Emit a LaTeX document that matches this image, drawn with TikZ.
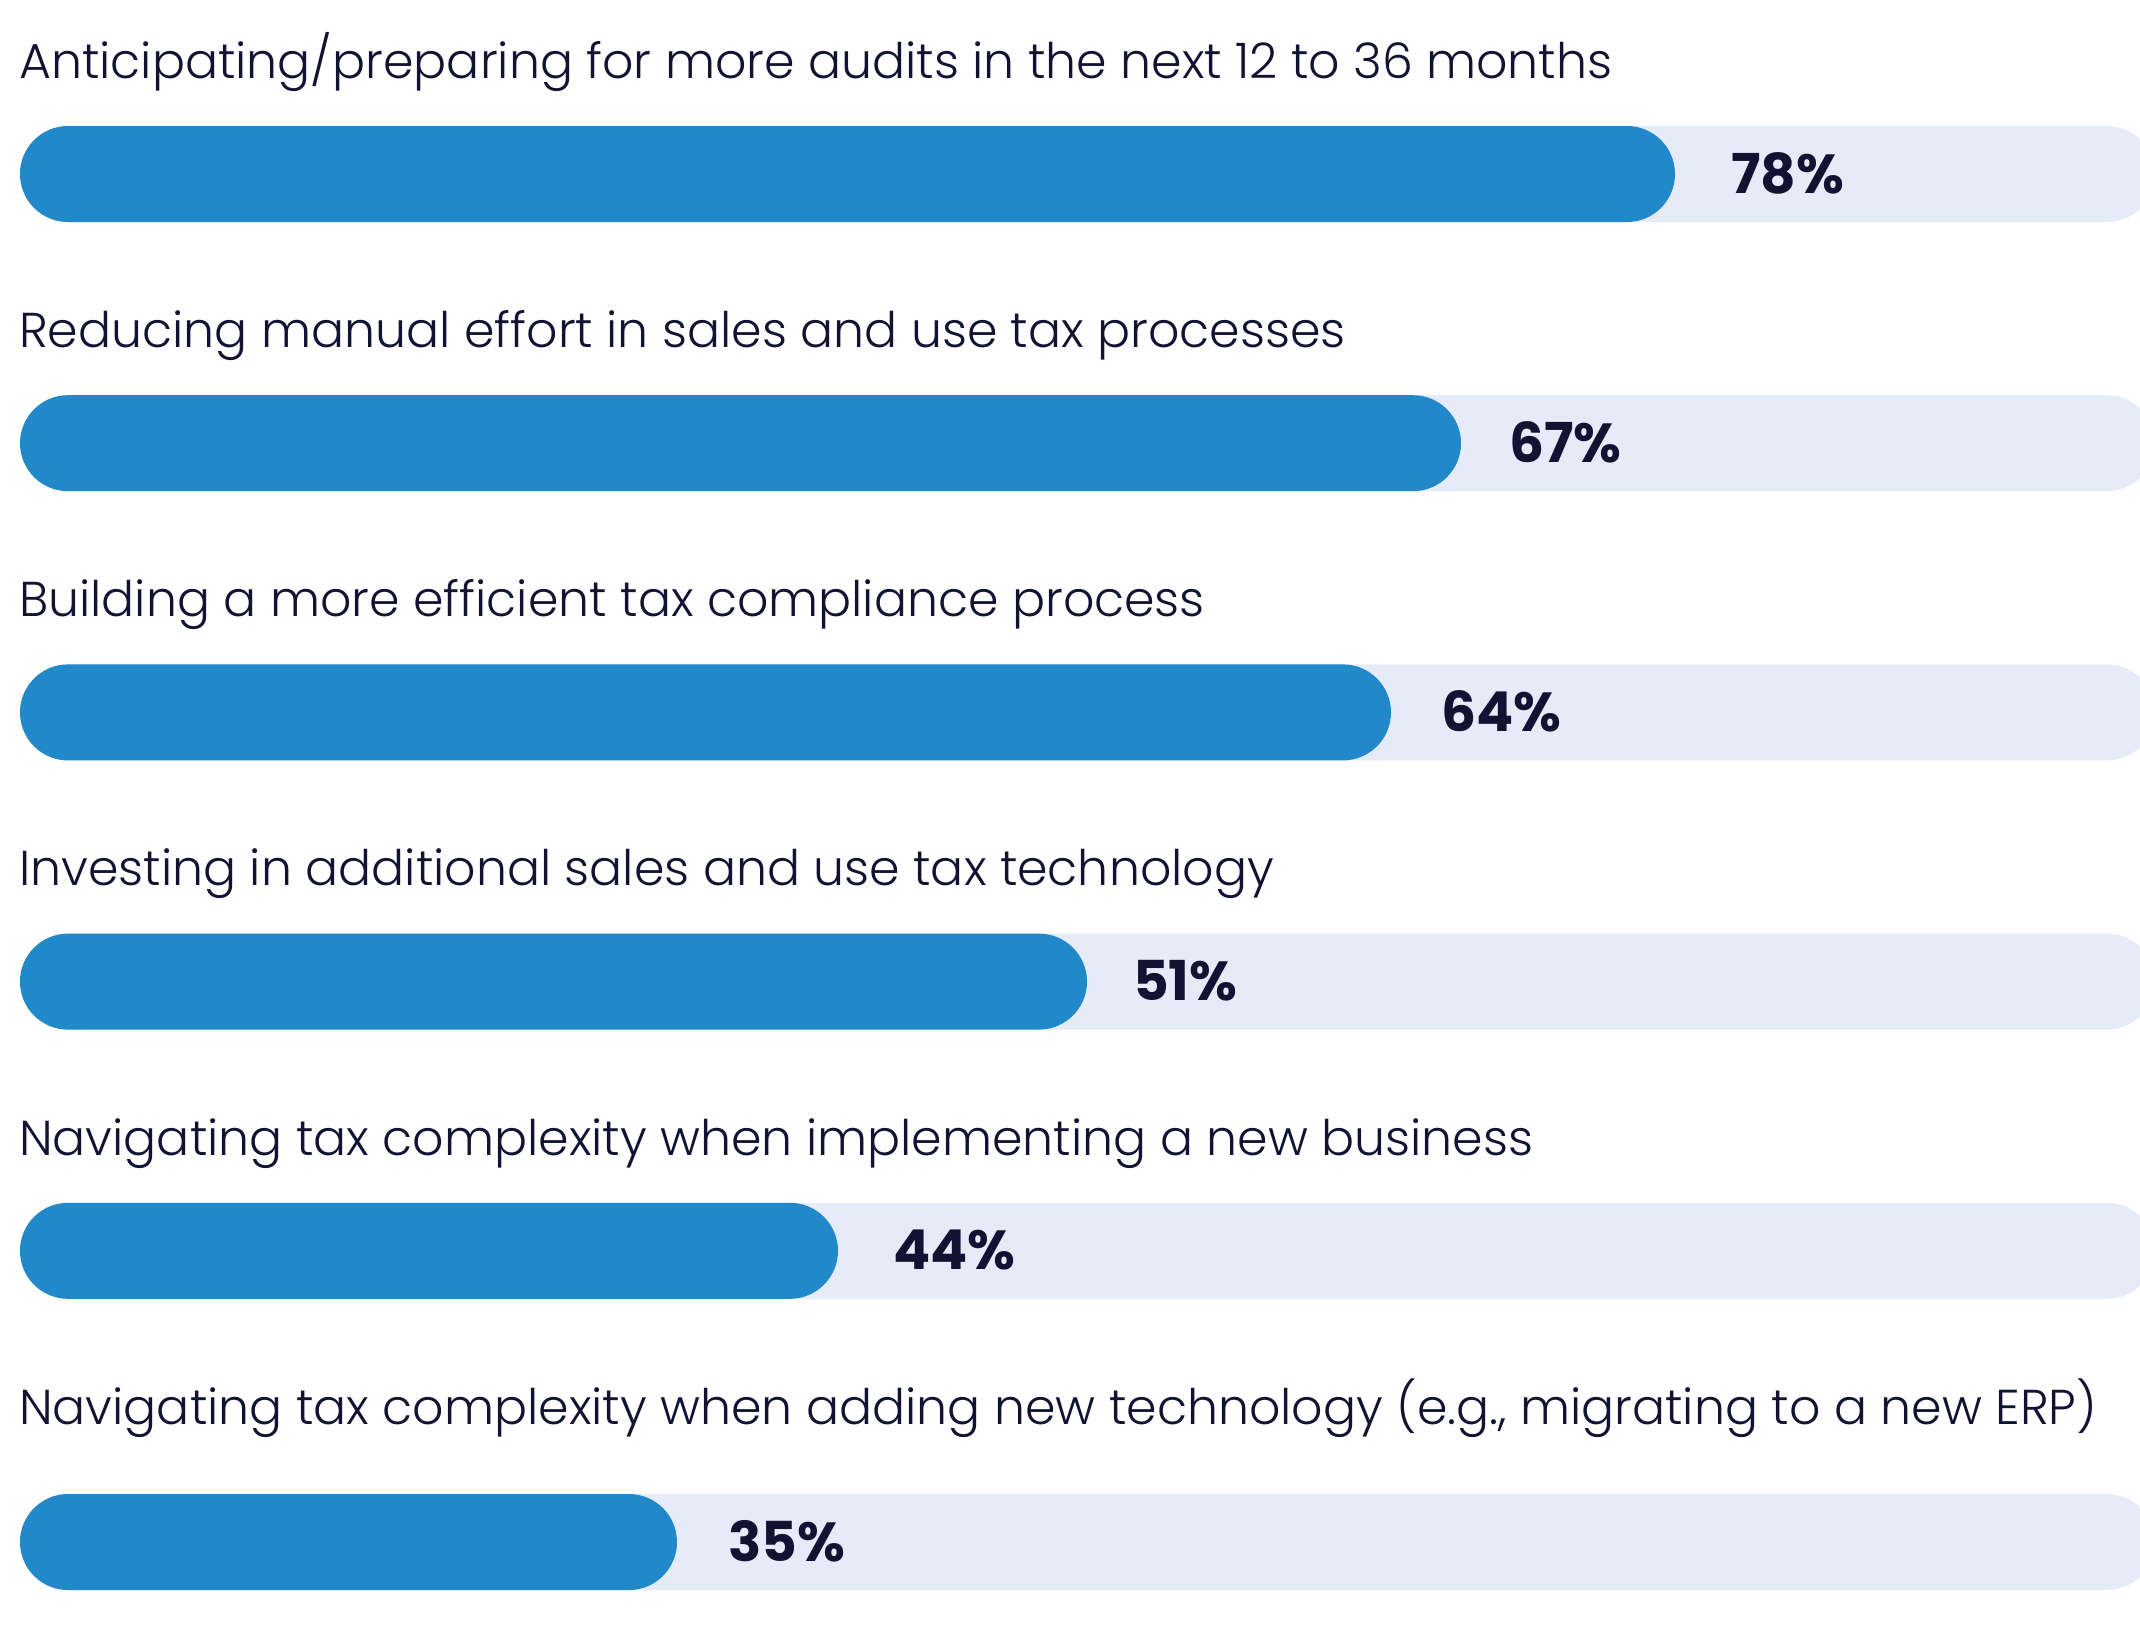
\documentclass[tikz,border=0pt]{standalone}
\usepackage{fontspec}
\setmainfont{Poppins}
\IfFontExistsTF{Poppins Light}{\newfontfamily\labfont{Poppins Light}}{\newfontfamily\labfont{Poppins}}
\definecolor{barblue}{HTML}{2189C9}
\definecolor{bartrack}{HTML}{E5EBF7}
\definecolor{ink}{HTML}{111333}
\begin{document}
\begin{tikzpicture}[x=1pt,y=-1pt,
  track/.style={fill=bartrack,rounded corners=48pt},
  value/.style={fill=barblue,rounded corners=48pt},
  lab/.style={anchor=base west,inner sep=0pt,text=ink,font=\labfont\fontsize{49}{60}\selectfont},
  pct/.style={anchor=base west,inner sep=0pt,text=ink,font=\fontsize{55}{60}\selectfont\bfseries}]
\useasboundingbox (0,0) rectangle (2140,1638);
\clip (0,0) rectangle (2140,1638);
\foreach \i/\lb/\bt/\be/\px/\txt/\val in {
  1/78.3/126/1675/1731/{Anticipating/preparing for more audits in the next 12 to 36 months}/78\%,
  2/347.5/395.2/1461/1509/{Reducing manual effort in sales and use tax processes}/67\%,
  3/616.7/664.4/1391/1441/{Building a more efficient tax compliance process}/64\%,
  4/885.9/933.6/1087/1133/{Investing in additional sales and use tax technology}/51\%,
  5/1155.1/1202.8/838/893/{Navigating tax complexity when implementing a new business}/44\%,
  6/1424.3/1494/677/728/{Navigating tax complexity when adding new technology (e.g., migrating to a new ERP)}/35\%}{
  \fill[track] (20,\bt) rectangle (2155,\bt+96);
  \fill[value] (20,\bt) rectangle (\be,\bt+96);
  \node[lab] (lab\i) at (19,\lb) {\txt};
  \node[pct] (pct\i) at (\px,\bt+48+19) {\val};
}
\end{tikzpicture}
\end{document}
